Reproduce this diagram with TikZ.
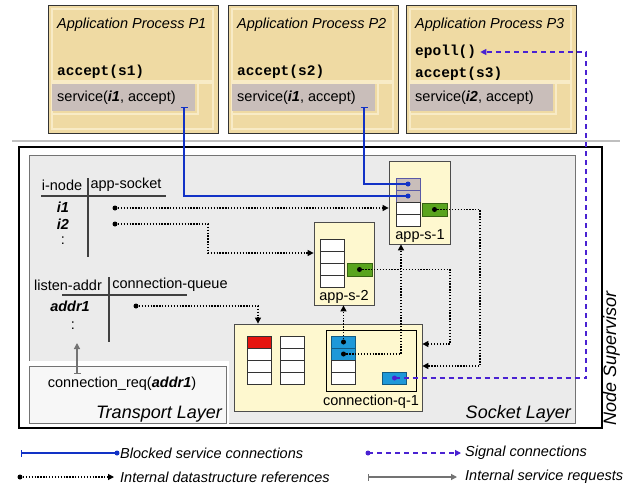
\documentclass[tikz,border=0pt]{standalone}
\usepackage{fontspec}
\setmainfont{Liberation Sans}
\setmonofont{Liberation Mono}
\usepackage{xcolor}
\usepackage{tikz}
\usetikzlibrary{arrows.meta}

\definecolor{proctan}{HTML}{EFDAA3}
\definecolor{proclight}{HTML}{F8EBC6}
\definecolor{svcgray}{HTML}{C9BEBA}
\definecolor{sockgray}{HTML}{EBEBEB}
\definecolor{appyellow}{HTML}{FEF8CF}
\definecolor{blockblue}{HTML}{1232C6}
\definecolor{signalblue}{HTML}{4A22D2}
\definecolor{ptrgreen}{HTML}{5AA41E}
\definecolor{qblue}{HTML}{1E98D8}
\definecolor{qred}{HTML}{E5140F}

\newcommand{\basefont}{\fontsize{14.5}{17}\selectfont}
\newcommand{\layerfont}{\fontsize{18}{21}\selectfont\itshape}

\tikzset{
  procbox/.style={draw=black!80, line width=1pt, fill=proctan, minimum width=170pt, minimum height=128pt, inner sep=0pt},
  panel/.style={draw=proclight, line width=1.2pt},
  svcbox/.style={fill=svcgray, minimum width=143pt, minimum height=27pt, inner sep=0pt},
  title/.style={anchor=west, inner sep=0pt, font=\basefont\itshape},
  code/.style={anchor=west, inner sep=0pt, font=\basefont\ttfamily\bfseries},
  txt/.style={anchor=west, inner sep=0pt},
  key/.style={font=\basefont\bfseries\itshape},
  appbox/.style={draw=black!70, line width=0.8pt, fill=appyellow, inner sep=0pt},
  cell/.style={draw=black!80, line width=1pt, fill=white, minimum width=24pt, minimum height=12pt, inner sep=0pt},
  gcell/.style={cell, draw=blue!30!gray, fill=svcgray},
  bcell/.style={cell, draw=qblue!60!black, fill=qblue},
  ptr/.style={cell, draw=ptrgreen!60!black, fill=ptrgreen, minimum width=25pt, minimum height=13pt},
  tab/.style={draw=black!75, line width=1.2pt},
  dot/.style={circle, fill=black, inner sep=0pt, minimum size=5pt},
  layer/.style={font=\layerfont, inner sep=0pt},
  ref/.style={draw=black, line width=1.2pt, dash pattern=on 1.3pt off 1.6pt, -{Triangle[length=6pt,width=6pt]}},
  blocked/.style={draw=blockblue, line width=1.2pt, {Bar[width=7pt]}-},
  signal/.style={draw=signalblue, line width=1.2pt, dash pattern=on 5pt off 4pt, -{Triangle[length=6pt,width=6pt]}},
  svcreq/.style={draw=black!55, line width=1.2pt, {Bar[width=7pt]}-{Triangle[length=6pt,width=6pt]}}
}

\begin{document}
\begin{tikzpicture}[x=1pt, y=-1pt]
	\tikzstyle{every node}=[font=\basefont]
		\fill[white] (0,0) rectangle (633,488);
		\useasboundingbox (0,0) rectangle (633,488);
		\node[procbox] (p1) at (133,69) {};
		\draw[panel] (52,9) rectangle (213,81);
		\draw[panel] (52,83) rectangle (213,129);
		\draw[panel] (52,83) rectangle (198,114);
		\node[svcbox] (svc1) at (123.5,97.5) {};
		\node[title] (t1) at (57,25) {Application Process P1};
		\node[code] (acc1) at (57,72) {accept(s1)};
		\node[txt] (s1txt) at (57,98) {service(\textbf{\textit{i1}}, accept)};
		\coordinate (b1) at (184,107);
		\node[procbox] (p2) at (313,69) {};
		\draw[panel] (232,9) rectangle (393,81);
		\draw[panel] (232,83) rectangle (393,129);
		\draw[panel] (232,83) rectangle (378,114);
		\node[svcbox] (svc2) at (303.5,97.5) {};
		\node[title] (t2) at (237,25) {Application Process P2};
		\node[code] (acc2) at (237,72) {accept(s2)};
		\node[txt] (s2txt) at (237,98) {service(\textbf{\textit{i1}}, accept)};
		\coordinate (b2) at (364,107);
		\node[procbox] (p3) at (491,69) {};
		\draw[panel] (410,9) rectangle (571,81);
		\draw[panel] (410,83) rectangle (571,129);
		\draw[panel] (410,83) rectangle (556,114);
		\node[svcbox] (svc3) at (481.5,97.5) {};
		\node[title] (t3) at (415,25) {Application Process P3};
		\node[code] (epoll) at (415,52) {epoll()};
		\node[code] (acc3) at (415,74) {accept(s3)};
		\node[txt] (s3txt) at (415,98) {service(\textbf{\textit{i2}}, accept)};
		\draw[draw=black!25, line width=2pt] (12,141) to (620,141);
		\draw[line width=2pt] (19,147) rectangle (602,428);
		\draw[draw=black!55, fill=sockgray, line width=0.8pt] (29,155) rectangle (575,423);
		\node[layer, anchor=base east] (socktxt) at (571,418) {Socket Layer};
		\node[layer, anchor=base west, rotate=90] (nodesup) at (616,426) {Node Supervisor};
		\fill[white] (26,361) rectangle (229,425);
		\node[draw=black!55, fill=black!3, line width=0.8pt, minimum width=197pt, minimum height=57pt, inner sep=0pt] (tl) at (127.5,394.5) {};
		\node (creq) at (122,384) {connection\_req(\textbf{\textit{addr1}})};
		\node[layer, anchor=base east] (tltxt) at (222,418) {Transport Layer};
		\node (inode) at (62,185) {i-node};
		\node (appsock) at (126,185) {app-socket};
		\draw[tab] (88,178) to (88,257);
		\draw[tab] (41,196) to (166,196);
		\node[key] (i1) at (63,207) {i1};
		\node[key] (i2) at (63,224) {i2};
		\node (idots) at (63,241) {:};
		\node (laddr) at (68,285) {listen-addr};
		\node (cqueue) at (170,285) {connection-queue};
		\draw[tab] (109,277) to (109,342);
		\draw[tab] (62,295) to (187,295);
		\node[key] (addr1) at (70,306) {addr1};
		\node (adots) at (73,326) {:};
		\node[appbox, minimum width=61pt, minimum height=83pt] (as1) at (419.5,202.5) {};
		\node[gcell] (as1g1) at (408,184) {};
		\node[gcell] (as1g2) at (408,196) {};
		\node[cell] (as1c1) at (408,208) {};
		\node[cell] (as1c2) at (408,220) {};
		\node[ptr] (as1p) at (434.5,209.5) {};
		\node (as1l) at (420,236) {app-s-1};
		\node[appbox, minimum width=60pt, minimum height=83pt] (as2) at (344,263.5) {};
		\node[cell] (as2c1) at (332,245) {};
		\node[cell] (as2c2) at (332,257) {};
		\node[cell] (as2c3) at (332,269) {};
		\node[cell] (as2c4) at (332,281) {};
		\node[ptr] (as2p) at (359.5,269.5) {};
		\node (as2l) at (344,297) {app-s-2};
		\node[appbox, minimum width=188pt, minimum height=87pt] (cq) at (328,367.5) {};
		\node[draw=black, line width=0.9pt, minimum width=90pt, minimum height=61pt, inner sep=0pt] (cqin) at (371,360.5) {};
		\node[cell, fill=qred] (q1c1) at (259.5,342) {};
		\node[cell] (q1c2) at (259.5,354) {};
		\node[cell] (q1c3) at (259.5,366) {};
		\node[cell] (q1c4) at (259.5,378) {};
		\node[cell] (q2c1) at (292,342) {};
		\node[cell] (q2c2) at (292,354) {};
		\node[cell] (q2c3) at (292,366) {};
		\node[cell] (q2c4) at (292,378) {};
		\node[bcell] (q3c1) at (343.5,342) {};
		\node[bcell] (q3c2) at (343.5,354) {};
		\node[cell] (q3c3) at (343.5,366) {};
		\node[cell] (q3c4) at (343.5,378) {};
		\node[bcell] (qsig) at (394.5,378) {};
		\node (cql) at (371,402) {connection-q-1};
		\node[dot] (i1d) at (115,208) {};
		\node[dot] (i2d) at (115,224) {};
		\node[dot] (a1d) at (136,306) {};
		\node[dot] (as1d) at (as1p) {};
		\node[dot] (as2d) at (as2p) {};
		\node[dot] (q3d1) at (q3c1) {};
		\node[dot] (q3d2) at (q3c2) {};
		\node[dot, fill=blockblue] (g1d) at (as1g1) {};
		\node[dot, fill=blockblue] (g2d) at (as1g2) {};
		\node[dot, fill=signalblue] (sigd) at (qsig) {};
		\coordinate (reqtop) at (77,343);
		\draw[ref] (i1d.center) -- (i1d.center -| as1.west);
		\draw[ref] (i2d.center) -| (208,253) -- (as2.west |- 208,253);
		\draw[ref] (a1d.center) -| (cq.north -| 258,0);
		\draw[ref] (as1d.center) -| (480,366) -- (cq.east |- 480,366);
		\draw[ref] (as2d.center) -| (450,344) -- (cq.east |- 450,344);
		\draw[ref] (q3d1.center) -- (q3d1.center |- as2.south);
		\draw[ref] (q3d2.center) -| (as1.south -| 401,0);
		\draw[blocked] (b1) |- (g2d.center);
		\draw[blocked] (b2) |- (g1d.center);
		\draw[signal] (sigd.center) -| (epoll.east -| 586,0) -- ([xshift=4pt]epoll.east);
		\draw[svcreq] (creq.north -| reqtop) -- (reqtop);
		\node[title, font=\basefont\itshape] (lg1) at (120,453) {Blocked service connections};
		\node[title] (lg2) at (465,453) {Signal connections};
		\node[title] (lg3) at (120,477) {Internal datastructure references};
		\node[title] (lg4) at (465,477) {Internal service requests};
		\coordinate (lg1s) at (21,453);
		\coordinate (lg2s) at (368,453);
		\coordinate (lg3s) at (20,477);
		\coordinate (lg4s) at (368,477);
		\node[dot, fill=blockblue] (lg1d) at (117,453) {};
		\node[dot, fill=signalblue] (lg2d) at (lg2s) {};
		\node[dot] (lg3d) at (lg3s) {};
		\draw[blocked] (lg1s) -- (lg1d.center);
		\draw[signal] (lg2d.center) -- ([xshift=-4pt]lg2.west);
		\draw[ref] (lg3d.center) -- ([xshift=-6pt]lg3.west);
		\draw[svcreq] (lg4s) -- ([xshift=-8pt]lg4.west);
	\end{tikzpicture}
\end{document}
